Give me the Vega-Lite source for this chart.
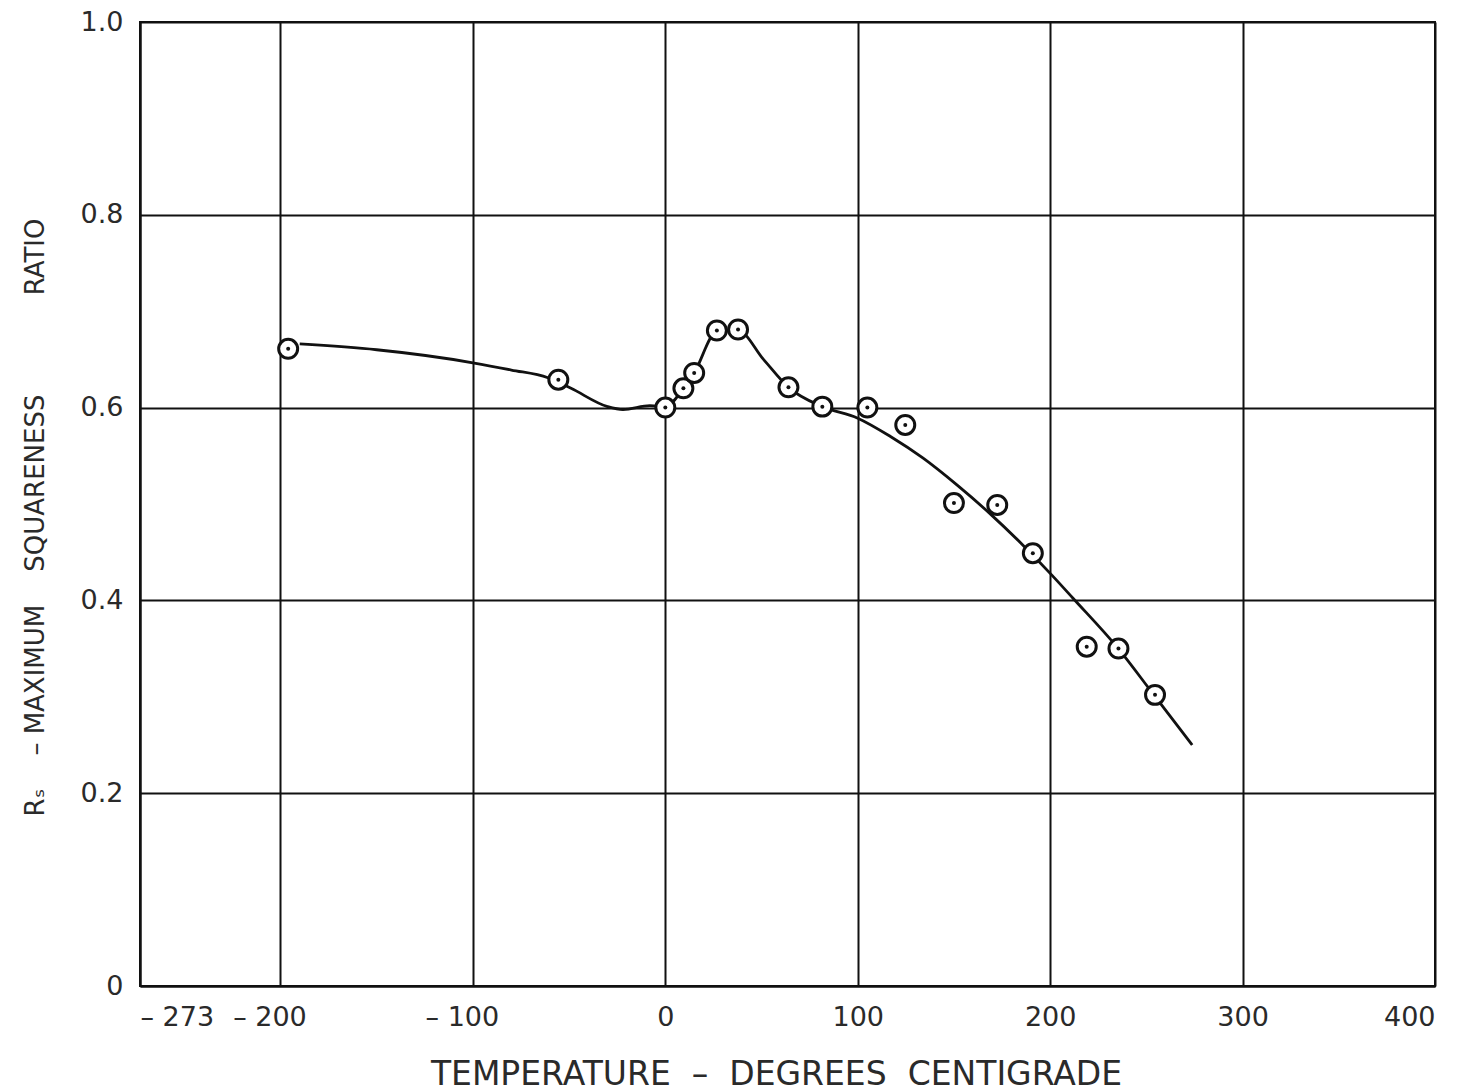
{
  "$schema": "https://vega.github.io/schema/vega-lite/v6.json",
  "width": 1295,
  "height": 964,
  "autosize": "none",
  "padding": {"left": 140, "top": 22, "right": 28, "bottom": 105},
  "background": "white",
  "config": {
    "view": {"stroke": "#111", "strokeWidth": 2},
    "font": "DejaVu Sans"
  },
  "datasets": {
    "points": [
      {"t": -196, "r": 0.661},
      {"t": -55.6, "r": 0.629},
      {"t": 0, "r": 0.600},
      {"t": 9.4, "r": 0.620},
      {"t": 15, "r": 0.636},
      {"t": 26.8, "r": 0.680},
      {"t": 37.8, "r": 0.681},
      {"t": 64, "r": 0.621},
      {"t": 81.6, "r": 0.601},
      {"t": 105, "r": 0.600},
      {"t": 124.7, "r": 0.582},
      {"t": 150, "r": 0.501},
      {"t": 172.5, "r": 0.499},
      {"t": 191, "r": 0.449},
      {"t": 219, "r": 0.352},
      {"t": 235.5, "r": 0.350},
      {"t": 254.5, "r": 0.302}
    ],
    "curve": [
      {"t": -190, "r": 0.666},
      {"t": -150, "r": 0.660},
      {"t": -100, "r": 0.6465},
      {"t": -80, "r": 0.639},
      {"t": -61, "r": 0.631},
      {"t": -49, "r": 0.620},
      {"t": -30, "r": 0.601},
      {"t": -22, "r": 0.598},
      {"t": -8, "r": 0.602},
      {"t": 0, "r": 0.601},
      {"t": 9.4, "r": 0.620},
      {"t": 15, "r": 0.636},
      {"t": 26.8, "r": 0.679},
      {"t": 37.8, "r": 0.680},
      {"t": 51, "r": 0.650},
      {"t": 64, "r": 0.621},
      {"t": 81.6, "r": 0.601},
      {"t": 100, "r": 0.589},
      {"t": 117, "r": 0.570},
      {"t": 134, "r": 0.5475},
      {"t": 152, "r": 0.519},
      {"t": 169, "r": 0.4895},
      {"t": 186, "r": 0.457},
      {"t": 201, "r": 0.426},
      {"t": 212, "r": 0.402},
      {"t": 235, "r": 0.351},
      {"t": 253.5, "r": 0.303},
      {"t": 273.8, "r": 0.250}
    ]
  },
  "encoding": {
    "x": {
      "field": "t",
      "type": "quantitative",
      "scale": {"domain": [-273, 400], "nice": false, "zero": false},
      "axis": {
        "values": [-273, -200, -100, 0, 100, 200, 300, 400],
        "labelExpr": "datum.value < 0 ? '– ' + abs(datum.value) : datum.label",
        "title": "TEMPERATURE\u00a0 –\u00a0 DEGREES\u00a0 CENTIGRADE",
        "titleFont": "DejaVu Sans",
        "titleFontSize": 33,
        "titleFontWeight": "normal",
        "titleColor": "#2a2a2a",
        "titleX": 636,
        "titleY": 88,
        "titleBaseline": "middle",
        "titleAlign": "center",
        "labelFont": "DejaVu Sans",
        "labelFontSize": 27,
        "labelColor": "#2a2a2a",
        "labelPadding": 18,
        "labelOffset": {"condition": {"test": "datum.value == -200 || datum.value == -100", "value": -11}, "value": 0},
        "ticks": false,
        "domainColor": "#111",
        "domainWidth": 2,
        "grid": true,
        "gridColor": "#111",
        "gridWidth": 2,
        "gridOpacity": 1
      }
    },
    "y": {
      "field": "r",
      "type": "quantitative",
      "scale": {"domain": [0, 1], "nice": false},
      "axis": {
        "values": [0, 0.2, 0.4, 0.6, 0.8, 1.0],
        "labelExpr": "datum.value == 0 ? '0' : format(datum.value, '.1f')",
        "title": "Rₛ\u00a0\u00a0\u00a0 – MAXIMUM\u00a0\u00a0\u00a0 SQUARENESS\u00a0\u00a0\u00a0\u00a0\u00a0\u00a0\u00a0\u00a0\u00a0\u00a0\u00a0 RATIO",
        "titleFont": "DejaVu Sans",
        "titleFontSize": 26,
        "titleFontWeight": "normal",
        "titleColor": "#2a2a2a",
        "titleAngle": -90,
        "titleX": -105,
        "titleY": 495,
        "titleBaseline": "middle",
        "titleAlign": "center",
        "labelFont": "DejaVu Sans",
        "labelFontSize": 27,
        "labelColor": "#2a2a2a",
        "labelPadding": 17,
        "ticks": false,
        "domainColor": "#111",
        "domainWidth": 2,
        "grid": true,
        "gridColor": "#111",
        "gridWidth": 2,
        "gridOpacity": 1
      }
    }
  },
  "layer": [
    {
      "data": {"name": "curve"},
      "mark": {"type": "line", "color": "#111", "strokeWidth": 2.8, "interpolate": "monotone"}
    },
    {
      "data": {"name": "points"},
      "mark": {"type": "point", "shape": "circle", "size": 360, "filled": false, "fill": "white", "fillOpacity": 1, "stroke": "#111", "strokeWidth": 3, "opacity": 1}
    },
    {
      "data": {"name": "points"},
      "mark": {"type": "point", "shape": "circle", "size": 16, "filled": true, "color": "#111", "opacity": 1}
    }
  ]
}
